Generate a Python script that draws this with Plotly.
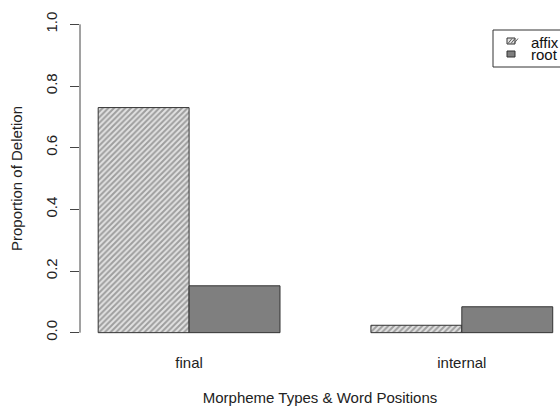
import plotly.graph_objects as go

categories = ["final", "internal"]
affix = [0.730, 0.024]
root = [0.152, 0.084]
series_names = ["affix", "root"]
y_ticks = [0.0, 0.2, 0.4, 0.6, 0.8, 1.0]
y_tick_labels = ["0.0", "0.2", "0.4", "0.6", "0.8", "1.0"]

FONT = "Liberation Sans, Arial, Helvetica, sans-serif"
W, H = 560, 406
L, R, T, B = 80, 0, 12, 61
PW, PH = W - L - R, H - T - B


def px_x(p):
    return (p - L) / PW


def px_y(p):
    return (H - B - p) / PH


AFFIX_FILL = dict(shape="/", fgcolor="#5a5a5a", bgcolor="#e2e2e2", size=4, solidity=0.5)
ROOT_COLOR = "#7f7f7f"
EDGE = "#333333"

fig = go.Figure()
fig.add_trace(go.Bar(
    x=categories, y=affix, name=series_names[0], showlegend=False,
    marker=dict(color="#d0d0d0", line=dict(color=EDGE, width=1), pattern=AFFIX_FILL),
))
fig.add_trace(go.Bar(
    x=categories, y=root, name=series_names[1], showlegend=False,
    marker=dict(color=ROOT_COLOR, line=dict(color=EDGE, width=1)),
))

shapes = [dict(type="line", xref="paper", x0=0, x1=0, yref="y", y0=0, y1=1,
               line=dict(color="#444444", width=1))]

# legend box (R style, top-right, partly cut by the page edge)
shapes.append(dict(type="rect", xref="paper", yref="paper",
                   x0=px_x(493), x1=px_x(620), y0=px_y(67), y1=px_y(30),
                   line=dict(color="#333333", width=1), fillcolor="white", layer="above"))
# affix swatch with hatching
sx0, sx1 = 507, 515
ay0, ay1 = 38, 44
shapes.append(dict(type="rect", xref="paper", yref="paper",
                   x0=px_x(sx0), x1=px_x(sx1), y0=px_y(ay1), y1=px_y(ay0),
                   line=dict(color=EDGE, width=1), fillcolor="#e2e2e2", layer="above"))
for k in range(3):
    xa = sx0 + 1 + 3 * k
    shapes.append(dict(type="line", xref="paper", yref="paper",
                       x0=px_x(xa), x1=px_x(xa + 4), y0=px_y(ay1 - 0.5), y1=px_y(ay0 + 0.5),
                       line=dict(color="#5a5a5a", width=1), layer="above"))
# root swatch
ry0, ry1 = 51, 57
shapes.append(dict(type="rect", xref="paper", yref="paper",
                   x0=px_x(sx0), x1=px_x(sx1), y0=px_y(ry1), y1=px_y(ry0),
                   line=dict(color=EDGE, width=1), fillcolor=ROOT_COLOR, layer="above"))

annotations = []
for name, yc in zip(series_names, [42.5, 54.5]):
    annotations.append(dict(text=name, xref="paper", yref="paper", x=px_x(529), y=px_y(yc),
                            xanchor="left", yanchor="middle", showarrow=False,
                            font=dict(size=15, color="#111111", family=FONT)))

fig.update_layout(
    width=W, height=H,
    margin=dict(l=L, r=R, t=T, b=B),
    paper_bgcolor="white", plot_bgcolor="white",
    barmode="group", bargap=1/3, bargroupgap=0,
    font=dict(family=FONT, size=15, color="#222222"),
    showlegend=False,
    xaxis=dict(range=[-0.4, 1.36], showline=False, showgrid=False, zeroline=False,
               automargin=False,
               ticks="outside", ticklen=4, tickcolor="rgba(0,0,0,0)",
               tickfont=dict(size=15),
               title=dict(text="Morpheme Types & Word Positions", standoff=23,
                          font=dict(size=15))),
    yaxis=dict(range=[-0.04, 1.04], showline=False, showgrid=False, zeroline=False,
               automargin=False,
               tickvals=y_ticks, ticktext=y_tick_labels, tickangle=-90,
               ticks="outside", ticklen=9, tickcolor="#444444", tickwidth=1,
               ticklabelstandoff=7,
               tickfont=dict(size=15),
               title=dict(text="Proportion of Deletion", standoff=16,
                          font=dict(size=15))),
    shapes=shapes,
    annotations=annotations,
)

fig.write_html("out.html", config={"displayModeBar": False},
               post_script="document.body.style.margin='0';document.body.style.overflow='hidden';")
